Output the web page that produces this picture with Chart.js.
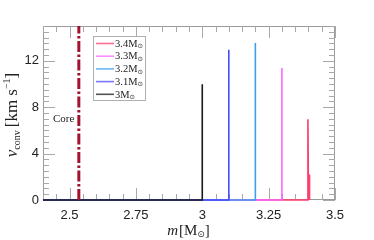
<!DOCTYPE html>
<html>
<head>
<meta charset="utf-8">
<script src="https://cdn.jsdelivr.net/npm/chart.js@4/dist/chart.umd.min.js"></script>
<style>
html,body{margin:0;padding:0;background:#fff;}
#wrap{width:374px;height:240px;position:relative;}
</style>
</head>
<body>
<div id="wrap"><canvas id="c" width="374" height="240"></canvas></div>
<script>
// ---- data ----
const xTickValues = [2.5, 2.75, 3, 3.25, 3.5];
const xTickLabels = ['2.5', '2.75', '3', '3.25', '3.5'];
const yTickValues = [0, 4, 8, 12];
const modelLabels = ['3.4', '3.3', '3.2', '3.1', '3'];
const modelColors = ['#ff3d6e', '#ff66ff', '#3aa0f0', '#4a4aff', '#1a1a1a'];
const m34_x = [2.4, 3.397, 3.398, 3.400, 3.402, 3.403, 3.404];
const m34_v = [0, 0, 6.97, 0.3, 0.3, 2.2, 0];
const m33_x = [2.4, 3.3, 3.3];
const m33_v = [0, 0, 11.38];
const m32_x = [2.4, 3.2, 3.2];
const m32_v = [0, 0, 13.54];
const m31_x = [2.4, 3.1, 3.1];
const m31_v = [0, 0, 12.96];
const m3_x = [2.4, 3.0, 3.0];
const m3_v = [0, 0, 9.97];
const core_x = [2.535, 2.535];
const core_v = [0, 15];

const toPts = (xs, ys) => xs.map((x, i) => ({x: x, y: ys[i]}));
const seriesX = [m34_x, m33_x, m32_x, m31_x, m3_x];
const seriesV = [m34_v, m33_v, m32_v, m31_v, m3_v];

const datasets = seriesX.map((xs, i) => ({
  label: modelLabels[i],
  data: toPts(xs, seriesV[i]),
  borderColor: modelColors[i],
  backgroundColor: modelColors[i],
  borderWidth: 1.6,
  pointRadius: 0,
  tension: 0,
  clip: false,
  order: 4 - i + 1
}));
datasets.push({
  label: 'Core',
  data: toPts(core_x, core_v),
  borderColor: '#a3122e',
  borderWidth: 3,
  borderDash: [11, 2.5, 2.5, 2.5],
  pointRadius: 0,
  clip: false,
  order: 0
});

const SERIF = '"Liberation Serif", "DejaVu Serif", serif';

const decor = {
  id: 'decor',
  beforeDatasetsDraw(chart) {
    const ctx = chart.ctx;
    const xs = chart.scales.x, ys = chart.scales.y;
    const a = chart.chartArea;
    ctx.save();
    ctx.strokeStyle = '#9a9a9a';
    ctx.lineWidth = 1;
    ctx.strokeRect(a.left + 0.5, a.top + 0.5, a.right - a.left - 1, a.bottom - a.top - 1);
    ctx.strokeStyle = '#a8a8a8';
    ctx.beginPath();
    for (let k = 0; k <= 22; k++) {
      const v = 2.4 + k * 0.05;
      const px = Math.round(xs.getPixelForValue(v)) + 0.5;
      const major = xTickValues.some(t => Math.abs(t - v) < 1e-6);
      const len = major ? 12 : 6;
      ctx.moveTo(px, a.bottom); ctx.lineTo(px, a.bottom - len);
      ctx.moveTo(px, a.top); ctx.lineTo(px, a.top + len);
    }
    for (let k = 0; k <= 30; k++) {
      const v = k * 0.5;
      const py = Math.round(ys.getPixelForValue(v)) + 0.5;
      const major = yTickValues.includes(v);
      const len = major ? 12 : 6;
      ctx.moveTo(a.left, py); ctx.lineTo(a.left + len, py);
      ctx.moveTo(a.right, py); ctx.lineTo(a.right - len, py);
    }
    ctx.stroke();
    ctx.restore();
  },
  afterDraw(chart) {
    const ctx = chart.ctx;
    ctx.save();
    // Core label
    ctx.fillStyle = '#222';
    ctx.font = '11px ' + SERIF;
    ctx.textBaseline = 'middle';
    ctx.textAlign = 'left';
    ctx.fillText('Core', 53, 119);

    // legend
    const lx = 93, ly = 36, lw = 52, lh = 64;
    ctx.fillStyle = '#fff';
    ctx.fillRect(lx, ly, lw, lh);
    ctx.strokeStyle = '#b0b0b0';
    ctx.lineWidth = 1;
    ctx.strokeRect(lx + 0.5, ly + 0.5, lw, lh);
    modelLabels.forEach((lab, i) => {
      const y = 43.5 + i * 12.7;
      ctx.strokeStyle = modelColors[i];
      ctx.globalAlpha = 0.75;
      ctx.lineWidth = 1.6;
      ctx.beginPath(); ctx.moveTo(96, y); ctx.lineTo(114, y); ctx.stroke();
      ctx.globalAlpha = 1;
      ctx.fillStyle = '#222';
      ctx.font = '10.5px ' + SERIF;
      ctx.textAlign = 'left';
      ctx.textBaseline = 'middle';
      const t = lab + 'M';
      ctx.fillText(t, 115, y + 0.5);
      const w = ctx.measureText(t).width;
      ctx.font = '6.5px "DejaVu Sans", sans-serif';
      ctx.fillText('\u2299', 115 + w, y + 3);
    });

    // x title
    ctx.fillStyle = '#222';
    ctx.textBaseline = 'alphabetic';
    const p1 = 'm', p2 = '[M', p4 = ']';
    ctx.font = 'italic 15px ' + SERIF; const w1 = ctx.measureText(p1).width;
    ctx.font = '15px ' + SERIF; const w2 = ctx.measureText(p2).width;
    ctx.font = '9px "DejaVu Sans", sans-serif'; const w3 = ctx.measureText('\u2299').width;
    ctx.font = '15px ' + SERIF; const w4 = ctx.measureText(p4).width;
    let x0 = 188 - (w1 + w2 + w3 + w4) / 2, by = 235;
    ctx.textAlign = 'left';
    ctx.font = 'italic 15px ' + SERIF; ctx.fillText(p1, x0, by); x0 += w1 + 1;
    ctx.font = '15px ' + SERIF; ctx.fillText(p2, x0, by); x0 += w2;
    ctx.font = '9px "DejaVu Sans", sans-serif'; ctx.fillText('\u2299', x0, by + 2); x0 += w3;
    ctx.font = '15px ' + SERIF; ctx.fillText(p4, x0, by);

    // y title (rotated)
    ctx.save();
    ctx.translate(12, 115);
    ctx.rotate(-Math.PI / 2);
    const parts = [
      {t: 'v', f: 'italic 17px ' + SERIF, dy: 0},
      {t: 'conv', f: '10px ' + SERIF, dy: 3},
      {t: '[km s', f: '17px ' + SERIF, dy: 0},
      {t: '\u22121', f: '10px ' + SERIF, dy: -7},
      {t: ']', f: '17px ' + SERIF, dy: 0}
    ];
    let tw = 0;
    parts.forEach(p => { ctx.font = p.f; p.w = ctx.measureText(p.t).width; tw += p.w; });
    tw += 3;
    let cx = -tw / 2;
    parts.forEach((p, i) => {
      ctx.font = p.f;
      ctx.fillText(p.t, cx, 5 + p.dy);
      cx += p.w + (i === 1 ? 3 : 0);
    });
    ctx.restore();

    ctx.restore();
  }
};

new Chart(document.getElementById('c'), {
  type: 'line',
  data: {datasets: datasets},
  options: {
    responsive: false,
    animation: false,
    devicePixelRatio: 1,
    layout: {padding: {left: 0, right: 39, top: 26, bottom: 0}},
    plugins: {legend: {display: false}, tooltip: {enabled: false}},
    scales: {
      x: {
        type: 'linear', min: 2.4, max: 3.5,
        afterBuildTicks: s => { s.ticks = xTickValues.map(v => ({value: v})); },
        afterFit: s => { s.height = 40; },
        grid: {display: false, drawTicks: false},
        border: {display: false},
        ticks: {
          padding: 8, color: '#222', maxRotation: 0, autoSkip: false,
          font: {family: '"Liberation Sans", Arial, sans-serif', size: 13},
          callback: (v) => { const i = xTickValues.findIndex(t => Math.abs(t - v) < 1e-9); return i >= 0 ? xTickLabels[i] : ''; }
        }
      },
      y: {
        type: 'linear', min: 0, max: 15,
        afterBuildTicks: s => { s.ticks = yTickValues.map(v => ({value: v})); },
        afterFit: s => { s.width = 43; },
        grid: {display: false, drawTicks: false},
        border: {display: false},
        ticks: {
          padding: 4, color: '#222',
          font: {family: '"Liberation Sans", Arial, sans-serif', size: 13}
        }
      }
    }
  },
  plugins: [decor]
});
</script>
</body>
</html>
